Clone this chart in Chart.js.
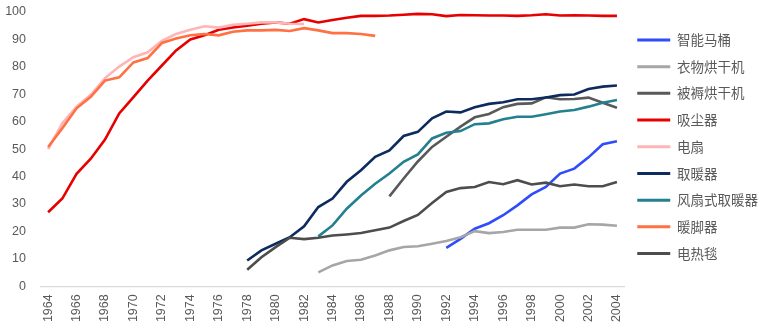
<!DOCTYPE html>
<html>
<head>
<meta charset="utf-8">
<script src="https://cdn.jsdelivr.net/npm/chart.js@4.4.1/dist/chart.umd.min.js"></script>
<style>
html, body { margin: 0; padding: 0; background: #fff; }
#wrap { width: 768px; height: 331px; position: relative; }
</style>
</head>
<body>
<div id="wrap"><canvas id="penetration-chart"></canvas></div>
<script>
const years = [
  1964, 1965, 1966, 1967, 1968, 1969, 1970, 1971, 1972, 1973, 1974,
  1975, 1976, 1977, 1978, 1979, 1980, 1981, 1982, 1983, 1984, 1985,
  1986, 1987, 1988, 1989, 1990, 1991, 1992, 1993, 1994, 1995, 1996,
  1997, 1998, 1999, 2000, 2001, 2002, 2003, 2004
];

// each series starts in its own year and runs until the data stops
const smartToilet = [14, 17.3, 21, 23, 25.9, 29.5, 33.5, 36.2, 41.1, 42.9, 47, 51.8, 52.9];           // from 1992
const clothesDryer = [5.1, 7.6, 9.2, 9.7, 11.2, 13.1, 14.3, 14.6, 15.5, 16.5, 17.9, 20.1, 19.4,
  19.8, 20.6, 20.6, 20.6, 21.4, 21.4, 22.6, 22.5, 22.1];                                               // from 1983
const futonDryer = [32.8, 39.3, 45.5, 50.8, 54.5, 58.2, 61.6, 62.8, 65.3, 66.5, 66.7, 68.9, 68.2,
  68.3, 68.8, 66.9, 65.1];                                                                             // from 1988
const vacuum = [27, 32, 41, 46.5, 53.5, 63, 69, 75, 80.5, 86, 90, 91.5, 93.5, 94.4, 95, 95.7, 96.2,
  95.7, 97.4, 96.2, 97.1, 97.9, 98.6, 98.6, 98.7, 99, 99.3, 99.2, 98.5, 98.9, 98.8, 98.7, 98.7,
  98.6, 98.8, 99.2, 98.7, 98.8, 98.7, 98.6, 98.6];                                                     // from 1964
const fan = [50, 59.4, 65.5, 69.8, 75.9, 80.1, 83.5, 85.3, 89.5, 92, 93.5, 94.8, 94.3, 95.3, 95.7,
  96.2, 96.2, 95.7, 95.6];                                                                             // from 1964
const heater = [9.4, 13.1, 15.5, 17.9, 21.9, 28.9, 32, 38.1, 42.3, 47.2, 49.5, 54.8, 56.3, 61.2,
  63.7, 63.4, 65.3, 66.5, 67.1, 68.2, 68.2, 68.8, 69.7, 69.9, 71.9, 72.8, 73.2];                       // from 1978
const fanHeater = [18.2, 22.2, 28.3, 33.1, 37.4, 41.1, 45.4, 48.1, 53.9, 56, 56.6, 59.1, 59.4,
  60.9, 61.8, 61.8, 62.7, 63.7, 64.3, 65.5, 66.9, 67.9];                                               // from 1983
const footWarmer = [50.8, 57.6, 64.9, 69.1, 75, 76.2, 81.6, 83.2, 88.7, 90.3, 91.5, 92, 91.5, 92.8,
  93.3, 93.3, 93.5, 93.1, 94.1, 93.3, 92.3, 92.3, 92, 91.3];                                           // from 1964
const electricBlanket = [6, 10.6, 14.3, 17.7, 17.2, 17.7, 18.5, 18.9, 19.4, 20.4, 21.4, 23.8, 26,
  30.4, 34.4, 35.8, 36.2, 38, 37.2, 38.7, 37.1, 37.8, 36.5, 37.1, 36.5, 36.5, 38];                     // from 1978

const yTicks = [0, 10, 20, 30, 40, 50, 60, 70, 80, 90, 100];

// put a series on the full year axis, null where there is no data
function alignToYears(startYear, values)
{
    return years.map(y => {
        const i = y - startYear;
        return (i >= 0 && i < values.length) ? values[i] : null;
    });
}

const seriesList = [
    { label: '智能马桶', start: 1992, data: smartToilet, color: '#2F4DFA' },
    { label: '衣物烘干机', start: 1983, data: clothesDryer, color: '#A6A6A6' },
    { label: '被褥烘干机', start: 1988, data: futonDryer, color: '#595959' },
    { label: '吸尘器', start: 1964, data: vacuum, color: '#E60000' },
    { label: '电扇', start: 1964, data: fan, color: '#FFB5B5' },
    { label: '取暖器', start: 1978, data: heater, color: '#0E2B5E' },
    { label: '风扇式取暖器', start: 1983, data: fanHeater, color: '#23808F' },
    { label: '暖脚器', start: 1964, data: footWarmer, color: '#FF7043' },
    { label: '电热毯', start: 1978, data: electricBlanket, color: '#4D4D4D' }
];

const tickFont = { family: '"Liberation Sans", Arial, sans-serif', size: 12.5 };

Chart.defaults.font.family = '"Noto Sans CJK SC", "Noto Sans", sans-serif';
Chart.defaults.color = '#595959';

new Chart(document.getElementById('penetration-chart'), {
    type: 'line',
    data: {
        labels: years.map(String),
        datasets: seriesList.map((s, i) => ({
            label: s.label,
            data: alignToYears(s.start, s.data),
            borderColor: s.color,
            backgroundColor: s.color,
            borderWidth: 2.6,
            pointRadius: 0,
            tension: 0,
            // later series sit on top, earlier ones underneath
            order: -i
        }))
    },
    options: {
        responsive: true,
        maintainAspectRatio: false,
        animation: false,
        layout: {
            padding: { left: 5, right: 0, top: 12, bottom: 8.7 }
        },
        plugins: {
            tooltip: { enabled: false },
            legend: {
                position: 'right',
                align: 'start',
                title: {
                    display: true,
                    text: '',
                    font: { size: 8, lineHeight: 1 },
                    padding: 0
                },
                labels: {
                    boxWidth: 33,
                    boxHeight: 3,
                    padding: 13.2,
                    color: '#595959',
                    font: { size: 13.5 },
                    sort: (a, b) => a.datasetIndex - b.datasetIndex,
                    generateLabels: (chart) => {
                        const items = Chart.defaults.plugins.legend.labels.generateLabels(chart);
                        return items.map(it => Object.assign(it, { fillStyle: it.strokeStyle, lineWidth: 0 }));
                    }
                }
            }
        },
        scales: {
            x: {
                offset: true,
                grid: { display: false, drawTicks: false },
                border: { display: true, color: '#D9D9D9', width: 1.3 },
                // fixed band for the upright year labels
                afterFit: (axis) => { axis.height = 36; axis.paddingLeft = 0; axis.paddingRight = 0; },
                ticks: {
                    autoSkip: false,
                    minRotation: 90,
                    maxRotation: 90,
                    padding: 8,
                    font: tickFont,
                    callback: function (value, index) {
                        return index % 2 === 0 ? this.getLabelForValue(value) : '';
                    }
                }
            },
            y: {
                min: 0,
                max: 100,
                grid: { display: false, drawTicks: false },
                border: { display: false },
                afterBuildTicks: (axis) => { axis.ticks = yTicks.map(v => ({ value: v })); },
                // fixed width, and keep the label gap from pushing the plot down
                afterFit: (axis) => { axis.width = 36; axis.paddingTop = 0; axis.paddingBottom = 0; },
                ticks: {
                    padding: 15,
                    font: tickFont
                }
            }
        }
    }
});
</script>
</body>
</html>
